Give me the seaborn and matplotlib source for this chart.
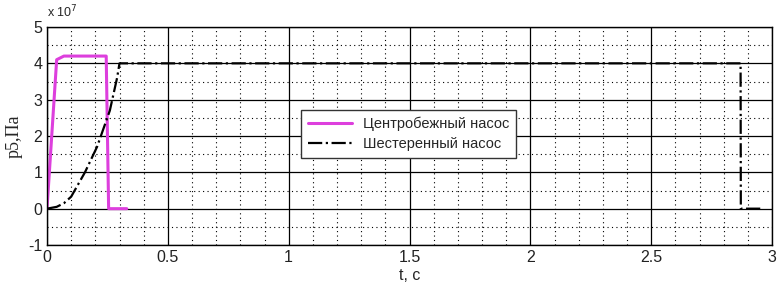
import matplotlib
matplotlib.use("Agg")
import matplotlib.pyplot as plt
import seaborn as sns
import pandas as pd
import numpy as np
from matplotlib.ticker import MultipleLocator

# Data (pressure in units of 1e7 Pa)
t_centr = [0.0, 0.04, 0.07, 0.245, 0.255, 0.33]
p_centr = [0.0, 4.1, 4.2, 4.2, 0.0, 0.0]
t_gear = [0.0, 0.04, 0.07, 0.10, 0.157, 0.207, 0.26, 0.29, 0.30, 2.87, 2.871, 2.96]
p_gear = [0.0, 0.05, 0.15, 0.33, 1.0, 1.7, 2.7, 3.6, 4.0, 4.0, 0.0, 0.0]
labels = ["Центробежный насос", "Шестеренный насос"]
xticks = [0, 0.5, 1, 1.5, 2, 2.5, 3]
yticks = [-1, 0, 1, 2, 3, 4, 5]

sns.set_style("white")
plt.rcParams['font.family'] = ['Liberation Sans', 'DejaVu Sans']
plt.rcParams['axes.unicode_minus'] = False

fig = plt.figure(figsize=(7.82, 2.91), dpi=100)
ax = fig.add_axes([47/782, 1-245/291, 725/782, 218/291])

df1 = pd.DataFrame({"t": t_centr, "p": p_centr})
df2 = pd.DataFrame({"t": t_gear, "p": p_gear})
sns.lineplot(data=df1, x="t", y="p", ax=ax, color="#dd3fdd", lw=2.2,
             label=labels[0], sort=False, estimator=None)
sns.lineplot(data=df2, x="t", y="p", ax=ax, color="black", lw=1.6,
             linestyle="-.", label=labels[1], sort=False, estimator=None)

ax.set_xlim(0, 3)
ax.set_ylim(-1, 5)
ax.set_xticks(xticks)
ax.set_xticklabels(["0", "0.5", "1", "1.5", "2", "2.5", "3"])
ax.set_yticks(yticks)
ax.xaxis.set_minor_locator(MultipleLocator(0.1))
ax.yaxis.set_minor_locator(MultipleLocator(0.5))
ax.grid(which="major", color="black", lw=0.9, ls="-")
ax.grid(which="minor", color="black", lw=0.8, ls=(0, (1, 3)))
ax.set_axisbelow(True)
ax.tick_params(which="major", direction="in", length=4, labelsize=11.5,
               colors="black", labelcolor="#222222")
ax.tick_params(which="minor", length=0)
for s in ax.spines.values():
    s.set_color("black")
    s.set_linewidth(1.0)

ax.set_xlabel("t, c", fontsize=11.5, labelpad=2)
ax.set_ylabel("p5,Па", fontsize=13, family=["Liberation Serif", "DejaVu Serif"], labelpad=4)
ax.text(0.0, 1.03, "x 10$^7$", transform=ax.transAxes, fontsize=9, ha="left", va="bottom")

leg = ax.legend(loc="center", bbox_to_anchor=(0.499, 0.51), fontsize=10.5,
                frameon=True, fancybox=False, framealpha=1, edgecolor="#333333",
                handlelength=3.0, borderpad=0.45, labelspacing=0.45)
leg.get_frame().set_linewidth(1.0)

fig.savefig("out.png", dpi=100, facecolor="white")
